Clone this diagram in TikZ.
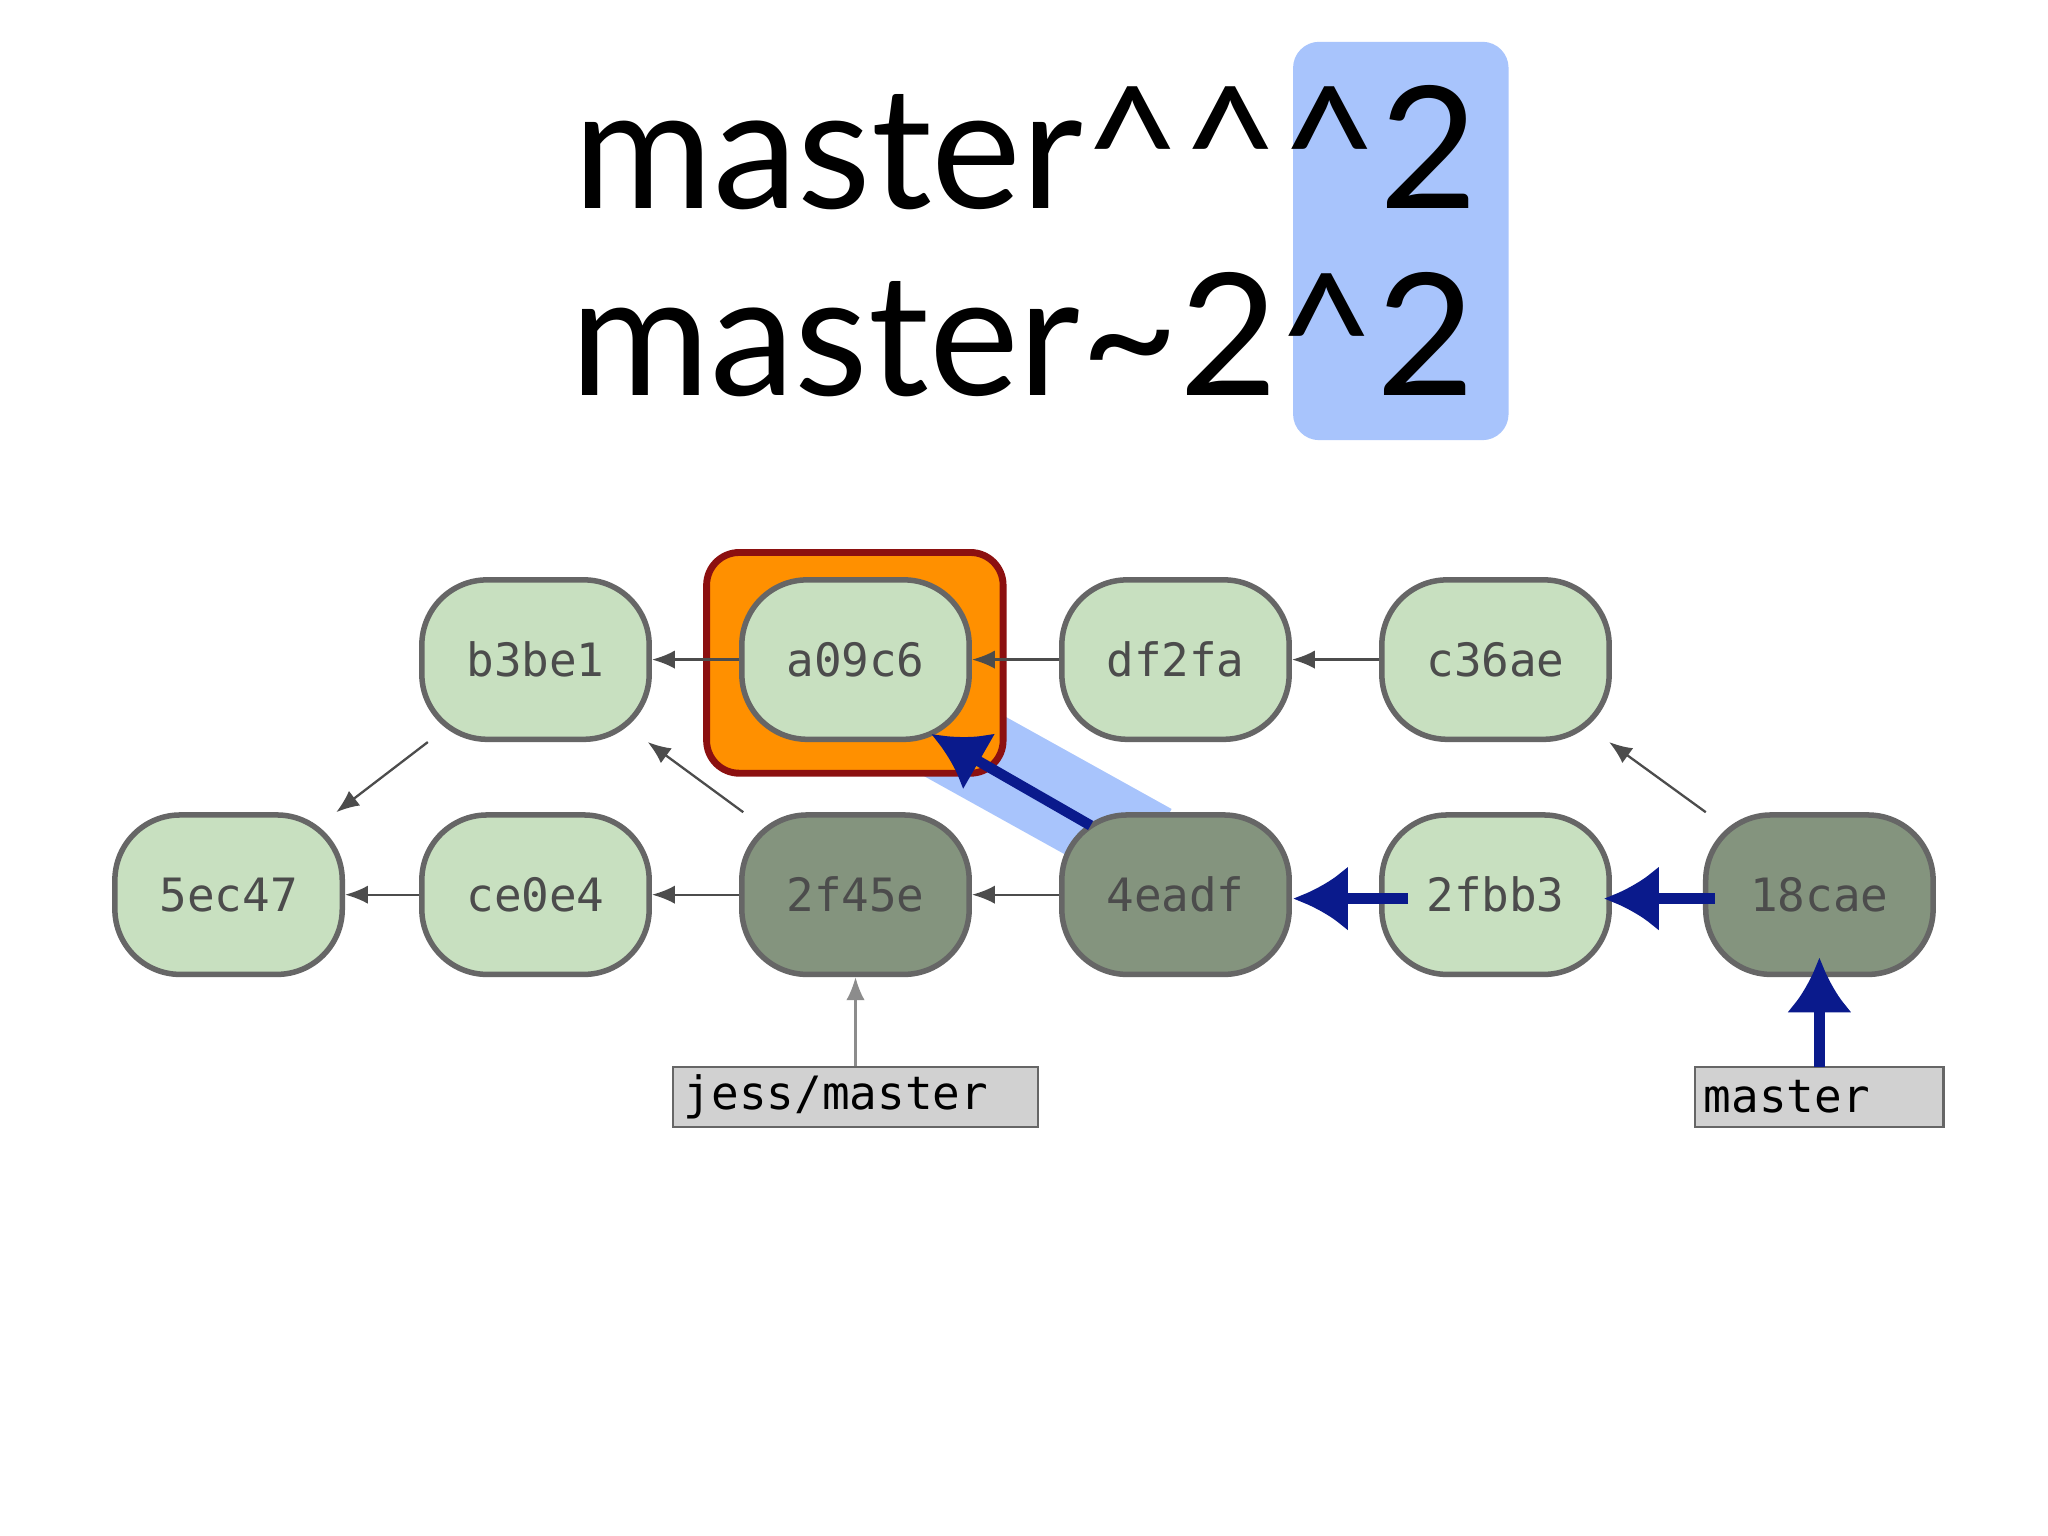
\documentclass[tikz,border=0pt]{standalone}
\usepackage{fontspec}
\setmainfont{Lato}
\newfontfamily\commitfont{DejaVu Sans Mono}
\usetikzlibrary{arrows.meta}
\definecolor{lightc}{HTML}{C8E0C0}
\definecolor{darkc}{HTML}{84947E}
\definecolor{edgec}{HTML}{666666}
\definecolor{hiblue}{HTML}{A8C4FC}
\definecolor{navy}{HTML}{0A1A8C}
\definecolor{orangec}{HTML}{FF9000}
\definecolor{redc}{HTML}{8C1010}
\begin{document}
\begin{tikzpicture}[x=0.01cm,y=-0.01cm,
  commit/.style={draw=edgec, line width=1.2pt, rounded corners=0.5cm,
    minimum width=1.74cm, minimum height=1.22cm, font=\commitfont\fontsize{10}{12}\selectfont,
    text=black!70},
  light/.style={commit, fill=lightc},
  dark/.style={commit, fill=darkc},
  ref/.style={draw=black!60, fill=black!18, line width=0.5pt, minimum height=0.46cm,
    inner sep=1pt, font=\commitfont\fontsize{10}{12}\selectfont},
  par/.style={draw=black!70, line width=0.5pt, -{Latex[length=5pt,width=4pt]}},
  hop/.style={draw=navy, line width=0.08cm, -{Latex[length=0.42cm,width=0.5cm]}}]
\useasboundingbox (0,0) rectangle (1568,1176);
\fill[white] (0,0) rectangle (1568,1176);
% title
\fill[hiblue, rounded corners=0.2cm] (990,32) rectangle (1155,337);
\node[anchor=base, font=\fontsize{37}{44}\selectfont, inner sep=0] at (785,160) {master\^{}\^{}\^{}2};
\node[anchor=base, font=\fontsize{37}{44}\selectfont, inner sep=0] at (783,303) {master\textasciitilde 2\^{}2};
% highlights
\draw[hiblue, line width=0.7cm] (718,560) -- (880,650);
\draw[draw=redc, fill=orangec, line width=1.5pt, rounded corners=0.25cm] (541,423) rectangle (768,592);
% commits
\node[light] (b3be1) at (410,505) {b3be1};
\node[light] (a09c6) at (655,505) {a09c6};
\node[light] (df2fa) at (900,505) {df2fa};
\node[light] (c36ae) at (1145,505) {c36ae};
\node[light] (5ec47) at (175,685) {5ec47};
\node[light] (ce0e4) at (410,685) {ce0e4};
\node[dark] (2f45e) at (655,685) {2f45e};
\node[dark] (4eadf) at (900,685) {4eadf};
\node[light] (2fbb3) at (1145,685) {2fbb3};
\node[dark] (18cae) at (1393,685) {18cae};
% refs
\node[ref, minimum width=2.79cm, align=left] (jess) at (655,840) {jess/master\hspace*{0.3cm}};
\node[ref, minimum width=1.9cm] (master) at (1393,840) {master\hspace*{0.5cm}};
% parents
\draw[par] (a09c6) -- (b3be1);
\draw[par] (df2fa) -- (a09c6);
\draw[par] (c36ae) -- (df2fa);
\draw[par] (b3be1) -- (5ec47);
\draw[par] (ce0e4) -- (5ec47);
\draw[par] (2f45e) -- (ce0e4);
\draw[par] (2f45e) -- (b3be1);
\draw[par] (4eadf) -- (2f45e);
\draw[par] (18cae) -- (c36ae);
\draw[par, draw=black!45] (jess) -- (2f45e);
% walk
\coordinate (m0) at (1393,817);
\coordinate (m1) at (1393,733);
\coordinate (a0) at (1313,688);
\coordinate (a1) at (1228,688);
\coordinate (b0) at (1078,688);
\coordinate (b1) at (990,688);
\coordinate (c0) at (835,632);
\coordinate (c1) at (713,562);
\draw[hop] (m0) -- (m1);
\draw[hop] (a0) -- (a1);
\draw[hop] (b0) -- (b1);
\draw[hop] (c0) -- (c1);
\end{tikzpicture}
\end{document}
